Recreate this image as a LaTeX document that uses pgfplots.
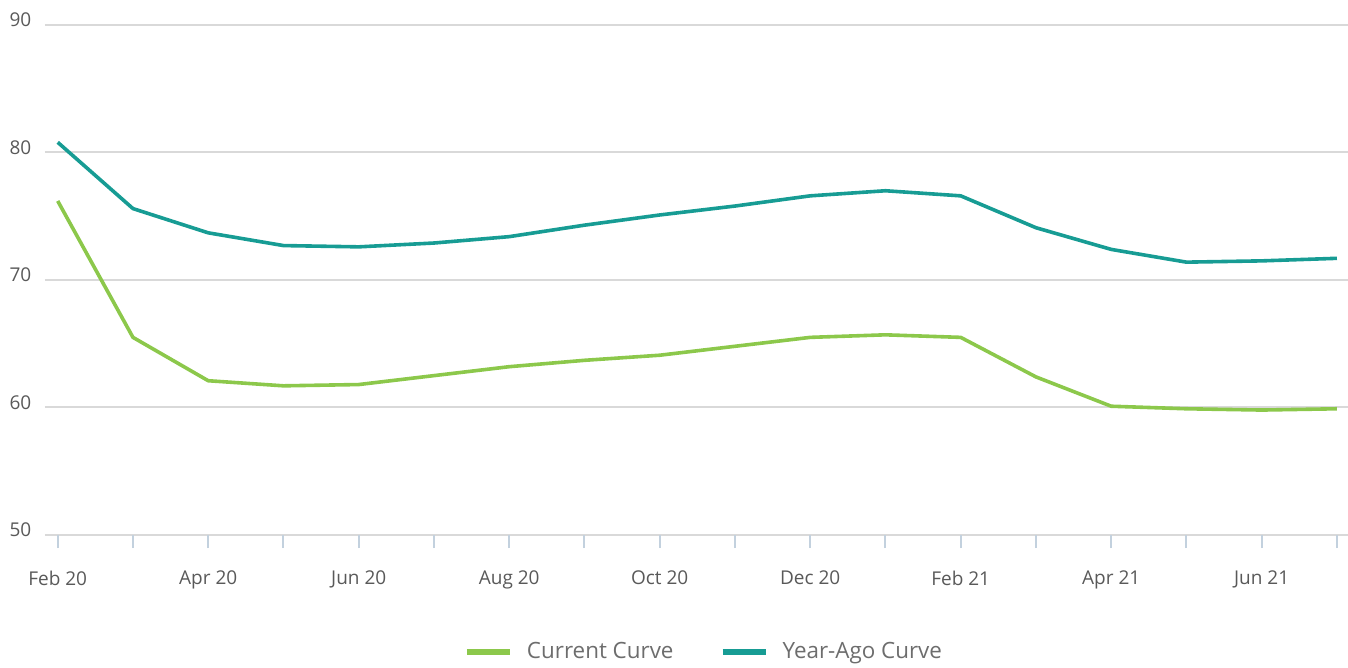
\documentclass[border=0pt]{standalone}
\usepackage{fontspec}
\setmainfont{Open Sans}
\usepackage{pgfplots}
\pgfplotsset{compat=1.18}
\definecolor{curgreen}{HTML}{8CC84B}
\definecolor{yateal}{HTML}{179C94}
\definecolor{gridgray}{HTML}{D9D9D9}
\definecolor{tickblue}{HTML}{C3D1DE}
\definecolor{labgray}{HTML}{595959}
\definecolor{leggray}{HTML}{6D6D6D}
\begin{document}
\begin{tikzpicture}
\path[use as bounding box] (-22.5pt,-66.5pt) rectangle (651.5pt,267.5pt);
\begin{axis}[
  at={(0pt,0pt)}, anchor=south west,
  scale only axis, width=651.5pt, height=255pt,
  xmin=-0.169, xmax=17.147, ymin=50, ymax=90,
  clip=false,
  axis line style={draw=none},
  xtick={0,...,17},
  xticklabels={Feb 20,,Apr 20,,Jun 20,,Aug 20,,Oct 20,,Dec 20,,Feb 21,,Apr 21,,Jun 21,},
  ytick={50,60,70,80,90},
  ymajorgrids,
  grid style={gridgray, line width=1pt},
  tick align=outside,
  xtick pos=bottom, ytick pos=left,
  major tick length=6.5pt,
  xtick style={tickblue, line width=1pt},
  ytick style={draw=none},
  /pgf/number format/assume math mode=true,
  tick label style={font=\fontsize{9.5}{11}\selectfont, text=labgray},
  xticklabel style={yshift=-8pt},
  yticklabel style={anchor=base east, xshift=3.2pt, yshift=-1pt},
  legend columns=2,
  legend style={draw=none, fill=none, at={(0.5065,-0.229)}, anchor=center,
    font=\fontsize{11.2}{13}\selectfont, text=leggray,
    /tikz/every odd column/.append style={column sep=5pt},
    /tikz/every even column/.append style={column sep=21pt}},
  legend image code/.code={\draw[#1, line width=3pt] (0pt,0pt) -- (21.5pt,0pt);},
  legend cell align=left,
]
\addplot[curgreen, line width=1.8pt] coordinates {
(0,76.2) (1,65.5) (2,62.1) (3,61.7) (4,61.8) (5,62.5) (6,63.2) (7,63.7) (8,64.1)
(9,64.8) (10,65.5) (11,65.7) (12,65.5) (13,62.4) (14,60.1) (15,59.9) (16,59.8) (17,59.9)};
\addlegendentry{Current Curve}
\addplot[yateal, line width=1.8pt] coordinates {
(0,80.8) (1,75.6) (2,73.7) (3,72.7) (4,72.6) (5,72.9) (6,73.4) (7,74.3) (8,75.1)
(9,75.8) (10,76.6) (11,77.0) (12,76.6) (13,74.1) (14,72.4) (15,71.4) (16,71.5) (17,71.7)};
\addlegendentry{Year-Ago Curve}
\end{axis}
\end{tikzpicture}
\end{document}
